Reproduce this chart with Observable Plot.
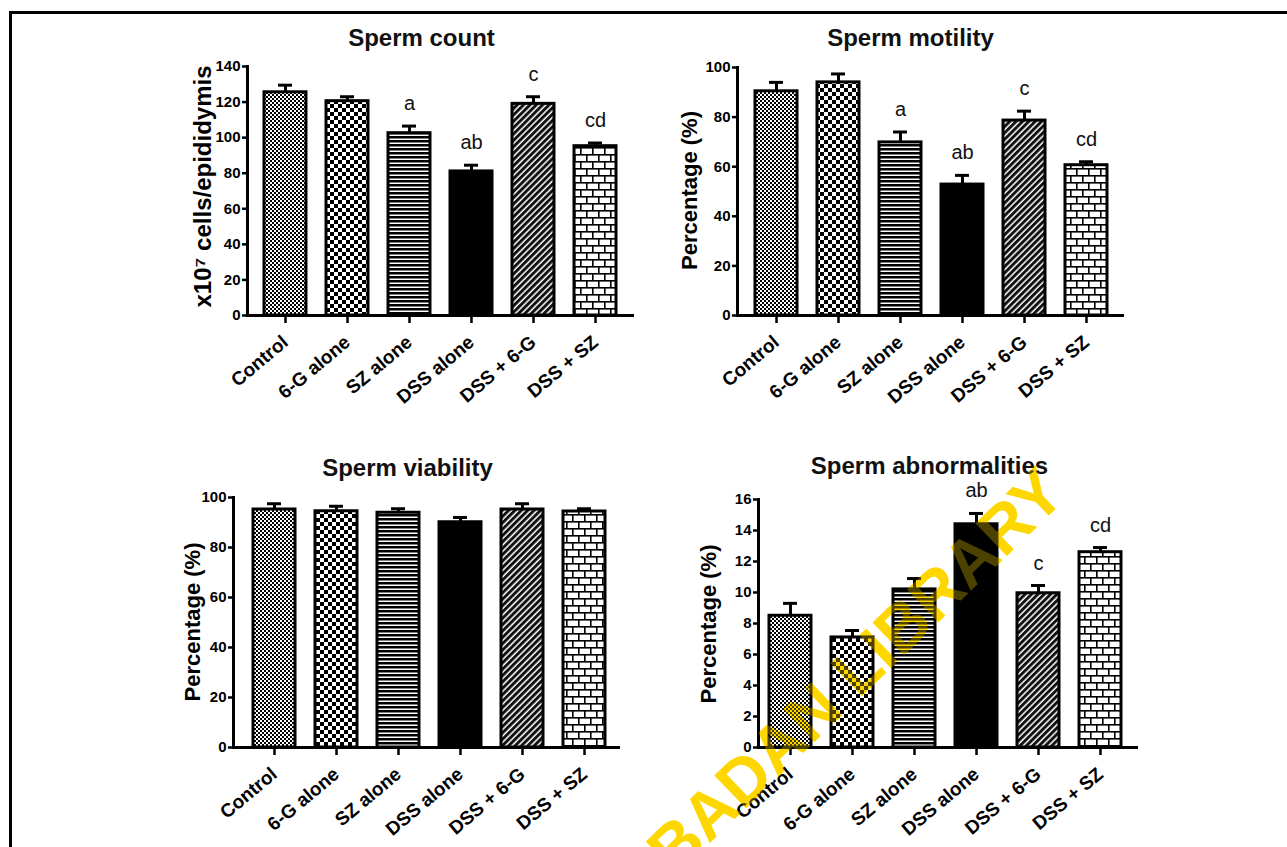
<!DOCTYPE html>
<html><head><meta charset="utf-8">
<script src="https://cdn.jsdelivr.net/npm/d3@7"></script>
<script src="https://cdn.jsdelivr.net/npm/@observablehq/plot@0.6"></script>
<style>
html,body{margin:0;padding:0;background:#fff}
body{width:1287px;height:847px;overflow:hidden;position:relative;font-family:"Liberation Sans",Arial,sans-serif}
#frame{position:absolute;left:9px;top:11px;width:1290px;height:850px;border-top:3px solid #000;border-left:3px solid #000;box-sizing:border-box}
.panel{position:absolute}
.wm{position:absolute;left:0;top:0;pointer-events:none}
</style></head><body>
<div id="frame"></div>
<svg width="0" height="0" style="position:absolute;left:0;top:0">
 <defs>
  <pattern id="pControl" patternUnits="userSpaceOnUse" width="4" height="4">
   <rect x="0" y="0" width="2" height="2" fill="#000"/><rect x="2" y="2" width="2" height="2" fill="#000"/>
  </pattern>
  <pattern id="p6G" patternUnits="userSpaceOnUse" width="8" height="8">
   <rect x="0" y="0" width="4" height="4" fill="#000"/><rect x="4" y="4" width="4" height="4" fill="#000"/>
  </pattern>
  <pattern id="pSZ" patternUnits="userSpaceOnUse" width="8" height="4">
   <rect x="0" y="0" width="8" height="2.5" fill="#000"/>
  </pattern>
  <pattern id="pDiag" patternUnits="userSpaceOnUse" width="4.5" height="4.5" patternTransform="rotate(45)">
   <rect x="0" y="0" width="3" height="4.5" fill="#111"/>
  </pattern>
  <pattern id="pBrick" patternUnits="userSpaceOnUse" width="12" height="14">
   <rect x="0" y="0" width="12" height="1.6" fill="#000"/><rect x="0" y="7" width="12" height="1.6" fill="#000"/>
   <rect x="0" y="0" width="1.6" height="7" fill="#000"/><rect x="6" y="7" width="1.6" height="7" fill="#000"/>
  </pattern>
 </defs>
</svg>
<svg class="wm" width="1287" height="847"><text id="wmtext" x="1068" y="497" text-anchor="end" transform="rotate(-44 1068 497)" font-family="Liberation Sans, Arial, sans-serif" font-weight="bold" font-size="66" fill="#FFD700">IBADAN LIBRARY</text></svg>
<div id="p1" class="panel"></div>
<div id="p2" class="panel"></div>
<div id="p3" class="panel"></div>
<div id="p4" class="panel"></div>
<svg class="wm" width="1287" height="847"><use href="#wmtext" opacity="0.3"/></svg>
<script>
// ---------- data ----------
const categories = ["Control", "6-G alone", "SZ alone", "DSS alone", "DSS + 6-G", "DSS + SZ"];

const countMean = [125.5, 120.5, 102.5, 81, 119, 95.2];
const countSem = [4, 2.5, 4, 3.5, 4, 1.8];
const countLetters = ["", "", "a", "ab", "c", "cd"];

const motilityMean = [90.4, 94, 69.8, 52.8, 78.6, 60.6];
const motilitySem = [3.6, 3.4, 4.2, 3.7, 3.8, 1.4];
const motilityLetters = ["", "", "a", "ab", "c", "cd"];

const viabilityMean = [95.2, 94.5, 93.9, 90.1, 95.2, 94.4];
const viabilitySem = [2.3, 2, 1.6, 1.9, 2.3, 1.1];
const viabilityLetters = ["", "", "", "", "", ""];

const abnormalMean = [8.5, 7.1, 10.2, 14.4, 9.95, 12.6];
const abnormalSem = [0.8, 0.45, 0.7, 0.7, 0.5, 0.3];
const abnormalLetters = ["", "", "", "ab", "c", "cd"];

const countTicks = [0, 20, 40, 60, 80, 100, 120, 140];
const pctTicks = [0, 20, 40, 60, 80, 100];
const abnTicks = [0, 2, 4, 6, 8, 10, 12, 14, 16];

const fills = ["url(#pControl)", "url(#p6G)", "url(#pSZ)", "#000", "url(#pDiag)", "url(#pBrick)"];
const FONT = "'Liberation Sans', Arial, sans-serif";

function makePanel(id, L, data) {
  const rows = categories.map((c, i) => ({cat: c, mean: data.mean[i], sem: data.sem[i], top: data.mean[i] + data.sem[i], letter: data.letters[i]}));
  const r0 = L.c0 - L.step / 2 - L.left;
  const frameCx = (L.axisX + L.axisEnd) / 2;
  const frameCy = (L.yTop + L.yZero) / 2;
  const plot = Plot.plot({
    width: L.width, height: L.height,
    marginLeft: L.axisX - L.left,
    marginRight: L.left + L.width - L.axisEnd,
    marginTop: L.yTop - L.top,
    marginBottom: L.top + L.height - L.yZero,
    style: {background: "transparent", overflow: "visible", fontFamily: FONT, color: "#000"},
    x: {domain: categories, range: [r0, r0 + 6 * L.step], paddingInner: 0.32, paddingOuter: 0.16, label: null, axis: null},
    y: {domain: [0, data.yMax], label: null, axis: null},
    color: {domain: categories, range: fills},
    marks: [
      Plot.barY(rows, {x: "cat", y: "mean", fill: "cat", stroke: "#000", strokeWidth: 3}),
      Plot.ruleX(rows, {x: "cat", y1: "mean", y2: "top", stroke: "#000", strokeWidth: 3}),
      Plot.tickY(rows, {x: "cat", y: "top", stroke: "#000", strokeWidth: 3, insetLeft: 14, insetRight: 14}),
      Plot.text(rows.filter(d => d.letter), {x: "cat", y: "top", text: "letter", dy: -16, lineAnchor: "bottom", fontSize: 20, fill: "#111", fontFamily: FONT}),
      Plot.axisY({ticks: data.ticks, tickSize: 5, tickPadding: 2, fontSize: 15, fontWeight: "bold", strokeWidth: 2.5, label: null, fontFamily: FONT}),
      Plot.axisX({tickSize: 8, strokeWidth: 2.5, tickFormat: () => "", label: null}),
      Plot.text(rows, {x: "cat", text: "cat", frameAnchor: "bottom", rotate: -40, textAnchor: "end", lineAnchor: "middle", dx: 0, dy: 24, fontSize: 19, fontWeight: "bold", fontFamily: FONT, fill: "#000"}),
      Plot.frame({anchor: "left", strokeWidth: 3}),
      Plot.frame({anchor: "bottom", strokeWidth: 3}),
      Plot.text([data.title], {frameAnchor: "top", textAnchor: "middle", lineAnchor: "bottom", dx: L.titleX - frameCx, dy: L.titleY - L.yTop, fontSize: 24, fontWeight: "bold", fontFamily: FONT, fill: "#111"}),
      Plot.text([data.ylabel], {frameAnchor: "left", textAnchor: "middle", rotate: -90, lineAnchor: "middle", dx: L.labX - L.axisX, dy: L.labY - frameCy, fontSize: L.labSize, fontWeight: "bold", fontFamily: FONT, fill: "#000"})
    ]
  });
  const el = document.getElementById(id);
  el.style.left = L.left + "px";
  el.style.top = L.top + "px";
  el.style.width = L.width + "px";
  el.style.height = L.height + "px";
  el.appendChild(plot);
}

makePanel("p1",
  {left: 130, top: 0, width: 520, height: 420, axisX: 247, axisEnd: 632, yTop: 66, yZero: 315, c0: 283, step: 62.9, titleX: 421, titleY: 45, labX: 202.5, labY: 186, labSize: 24},
  {mean: countMean, sem: countSem, letters: countLetters, yMax: 140, ticks: countTicks, title: "Sperm count", ylabel: "x10\u2077 cells/epididymis"});
makePanel("p2",
  {left: 620, top: 0, width: 520, height: 420, axisX: 737, axisEnd: 1122, yTop: 67, yZero: 315, c0: 775, step: 62.4, titleX: 910, titleY: 45, labX: 689, labY: 190, labSize: 22},
  {mean: motilityMean, sem: motilitySem, letters: motilityLetters, yMax: 100, ticks: pctTicks, title: "Sperm motility", ylabel: "Percentage (%)"});
makePanel("p3",
  {left: 116, top: 430, width: 520, height: 417, axisX: 233, axisEnd: 618, yTop: 497, yZero: 747, c0: 272, step: 62.8, titleX: 407, titleY: 475, labX: 192, labY: 621.5, labSize: 22},
  {mean: viabilityMean, sem: viabilitySem, letters: viabilityLetters, yMax: 100, ticks: pctTicks, title: "Sperm viability", ylabel: "Percentage (%)"});
makePanel("p4",
  {left: 640, top: 430, width: 520, height: 417, axisX: 758, axisEnd: 1136, yTop: 499, yZero: 747, c0: 789, step: 62.6, titleX: 929, titleY: 473, labX: 708, labY: 623.5, labSize: 22},
  {mean: abnormalMean, sem: abnormalSem, letters: abnormalLetters, yMax: 16, ticks: abnTicks, title: "Sperm abnormalities", ylabel: "Percentage (%)"});
</script>
</body></html>
